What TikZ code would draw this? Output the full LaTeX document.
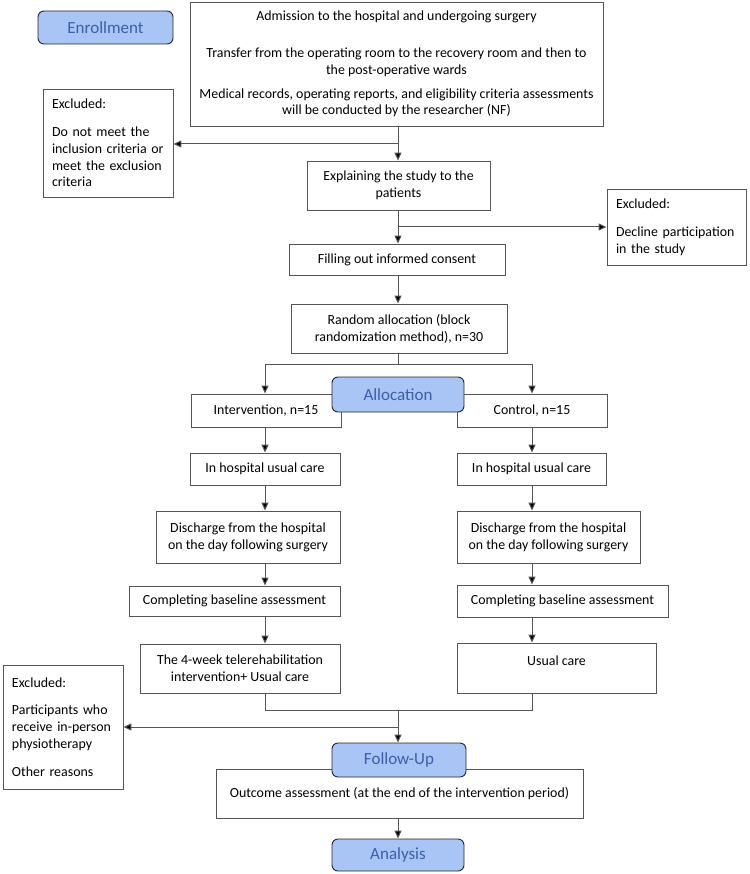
\documentclass[tikz,border=0pt]{standalone}
\usepackage{fontspec}
\setmainfont{Carlito}
\usetikzlibrary{arrows.meta}
\definecolor{hdrfill}{HTML}{A9C5F6}
\definecolor{hdrtext}{HTML}{3D5EA8}
\definecolor{lnc}{HTML}{555555}
\tikzset{
  box/.style={draw=lnc, line width=0.9pt, fill=white, inner sep=0pt, align=center,
    font=\fontsize{13.9}{16.8}\selectfont},
  exbox/.style={box, align=left, text width=#1},
  hdr/.style={draw=black!85, line width=0.9pt, fill=hdrfill, rounded corners=6pt,
    text=hdrtext, font=\fontsize{17}{20}\selectfont, inner sep=0pt},
  conn/.style={draw=lnc, line width=1pt},
  arr/.style={conn, -{Triangle[length=8pt,width=7pt,fill=black]}},
}
\begin{document}
\begin{tikzpicture}[x=1pt,y=-1pt]
\useasboundingbox (0,0) rectangle (749,874);
% boxes
\node[box, minimum width=413pt, minimum height=124pt] (top) at (396.5,64)
  {Admission to the hospital and undergoing surgery\\[20pt]
   Transfer from the operating room to the recovery room and then to\\
   the post-operative wards\\[7pt]
   Medical records, operating reports, and eligibility criteria assessments\\
   will be conducted by the researcher (NF)};
\node[hdr, minimum width=135pt, minimum height=33pt] (enroll) at (105.5,27.5) {Enrollment};
\node[exbox=112pt, minimum width=130pt, minimum height=108pt] (ex1) at (108,143)
  {Excluded:\\[11pt]Do not meet the\\inclusion criteria or\\meet the exclusion\\criteria};
\node[box, minimum width=183pt, minimum height=49pt] (explain) at (398.5,185.5)
  {Explaining the study to the\\patients};
\node[exbox=121pt, minimum width=139pt, minimum height=76pt] (ex2) at (676.5,227)
  {Excluded:\\[11pt]Decline participation\\in the study};
\node[box, minimum width=216pt, minimum height=31pt] (fill) at (397,259.5)
  {Filling out informed consent};
\node[box, minimum width=216pt, minimum height=49pt] (random) at (399,328.5)
  {Random allocation (block\\randomization method), n=30};
\node[box, minimum width=150pt, minimum height=33pt] (interv) at (266,410.5)
  {Intervention, n=15};
\node[box, minimum width=150pt, minimum height=33pt] (control) at (532,410.5)
  {Control, n=15};
\node[hdr, minimum width=132pt, minimum height=35pt] (alloc) at (398,394.5) {Allocation};
\node[box, minimum width=150pt, minimum height=32pt] (hospL) at (265,469)
  {In hospital usual care};
\node[box, minimum width=149pt, minimum height=32pt] (hospR) at (531.5,469)
  {In hospital usual care};
\node[box, minimum width=184pt, minimum height=52pt] (disL) at (248,537)
  {Discharge from the hospital\\on the day following surgery};
\node[box, minimum width=183pt, minimum height=52pt] (disR) at (548.5,537)
  {Discharge from the hospital\\on the day following surgery};
\node[box, minimum width=211pt, minimum height=30pt] (compL) at (234.5,601)
  {Completing baseline assessment};
\node[box, minimum width=211pt, minimum height=32pt] (compR) at (562.5,601)
  {Completing baseline assessment};
\node[box, minimum width=200pt, minimum height=49pt] (tele) at (240,668.5)
  {The 4-week telerehabilitation\\intervention+ Usual care};
\node[box, minimum width=199pt, minimum height=50pt, text depth=14pt] (usual) at (556.5,668)
  {Usual care};
\node[exbox=102pt, minimum width=120pt, minimum height=124pt] (ex3) at (63,727)
  {Excluded:\\[11pt]Participants who\\receive in-person\\physiotherapy\\[11pt]Other reasons};
\node[box, minimum width=367pt, minimum height=49pt] (outcome) at (399.5,793.5)
  {Outcome assessment (at the end of the intervention period)};
\node[hdr, minimum width=134pt, minimum height=34pt] (follow) at (399,760) {Follow-Up};
\node[hdr, minimum width=132pt, minimum height=32pt] (analysis) at (398,855) {Analysis};
% coordinates
\coordinate (cM) at (398,0);
\coordinate (cL) at (265,0);
\coordinate (cR) at (532,0);
\coordinate (j1) at (398,144);
\coordinate (j2) at (398,227);
\coordinate (j4) at (398,364);
\coordinate (j5) at (398,710);
\coordinate (j6) at (398,727);
% connectors
\draw[arr] (top.south -| cM) -- (explain.north -| cM);
\draw[arr] (j1) -- (j1 -| ex1.east);
\draw[arr] (explain.south -| cM) -- (fill.north -| cM);
\draw[arr] (j2) -- (j2 -| ex2.west);
\draw[arr] (fill.south -| cM) -- (random.north -| cM);
\draw[conn] (random.south -| cM) -- (j4);
\draw[arr] (j4) -- (j4 -| cL) -- (interv.north -| cL);
\draw[arr] (j4) -- (j4 -| cR) -- (control.north -| cR);
\draw[arr] (interv.south -| cL) -- (hospL.north -| cL);
\draw[arr] (hospL.south -| cL) -- (disL.north -| cL);
\draw[arr] (disL.south -| cL) -- (compL.north -| cL);
\draw[arr] (compL.south -| cL) -- (tele.north -| cL);
\draw[arr] (control.south -| cR) -- (hospR.north -| cR);
\draw[arr] (hospR.south -| cR) -- (disR.north -| cR);
\draw[arr] (disR.south -| cR) -- (compR.north -| cR);
\draw[arr] (compR.south -| cR) -- (usual.north -| cR);
\draw[conn] (tele.south -| cL) -- (j5 -| cL) -- (j5 -| cR) -- (usual.south -| cR);
\draw[arr] (j5) -- (follow.north -| cM);
\draw[arr] (j6) -- (j6 -| ex3.east);
\draw[arr] (outcome.south -| cM) -- (analysis.north -| cM);
\end{tikzpicture}
\end{document}
